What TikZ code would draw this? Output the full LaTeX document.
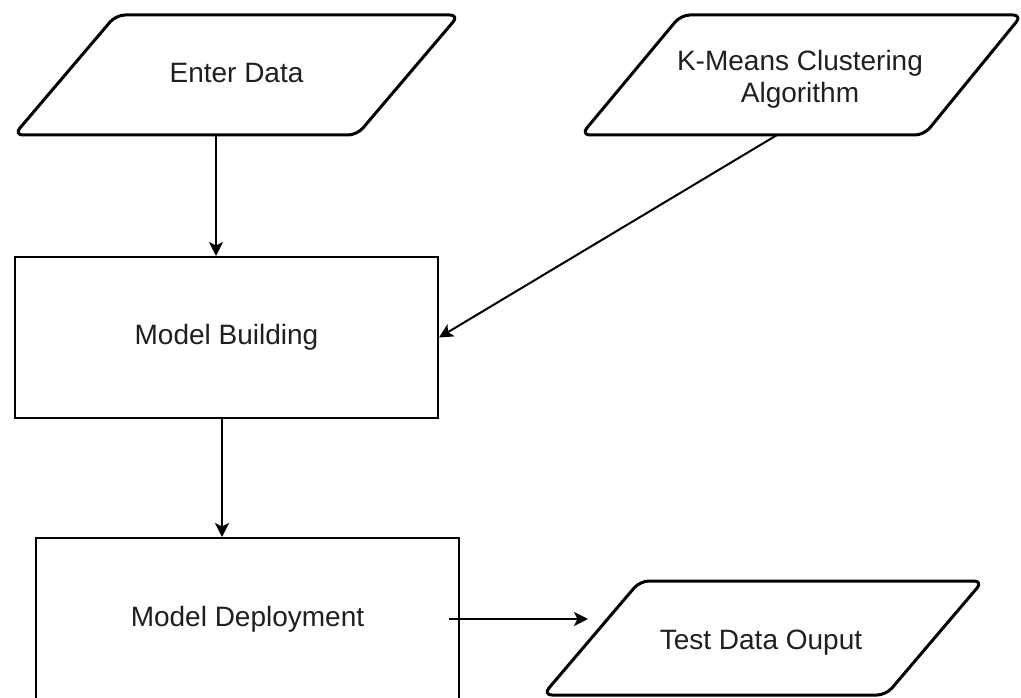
\documentclass[tikz,border=0pt]{standalone}
\usepackage{fontspec}
\setmainfont{Liberation Sans}
\usetikzlibrary{arrows.meta}
\begin{document}
\begin{tikzpicture}[x=1pt,y=-1pt,
  io/.style={draw=black,line width=3pt,rounded corners=9pt,line join=round},
  procbox/.style={draw=black,line width=2pt,inner sep=0pt,
    font=\fontsize{28}{32}\selectfont,text=black!88},
  lbl/.style={inner sep=0pt,font=\fontsize{28}{32}\selectfont,text=black!88,align=center},
  arr/.style={draw=black,line width=2pt,-{Stealth[length=14pt,width=14pt,inset=3.5pt]}}]
\useasboundingbox (0,0) rectangle (1021,698);
\fill[white] (0,0) rectangle (1021,698);

% input/output parallelograms
\draw[io] (116,15) -- (459,15) -- (357,135) -- (14,135) -- cycle;
\node[lbl,anchor=base] (ed) at (236.5,83) {Enter Data};

\draw[io] (681,15) -- (1022,15) -- (924,135) -- (581,135) -- cycle;
\node[lbl] (km) at (800,79) {K-Means Clustering\\Algorithm};

\draw[io] (640,581) -- (983,581) -- (886,695) -- (543,695) -- cycle;
\node[lbl,anchor=base] (td) at (761,649) {Test Data Ouput};

% process boxes
\node[procbox,minimum width=423pt,minimum height=161pt] (mb) at (226.5,337.5) {Model Building};
\node[procbox,minimum width=423pt,minimum height=162pt] (md) at (247.5,619) {Model Deployment};

% connectors
\coordinate (edOut) at (216,135);
\coordinate (kmOut) at (777,135);
\coordinate (tdIn) at (588,619);
\draw[arr] (edOut) -- (edOut |- mb.north);
\draw[arr] (kmOut) -- (mb.east);
\draw[arr] ([xshift=-4.5pt]mb.south) -- ([xshift=-4.5pt]mb.south |- md.north);
\draw[arr] ([xshift=-11pt]md.east) -- (tdIn);
\end{tikzpicture}
\end{document}
